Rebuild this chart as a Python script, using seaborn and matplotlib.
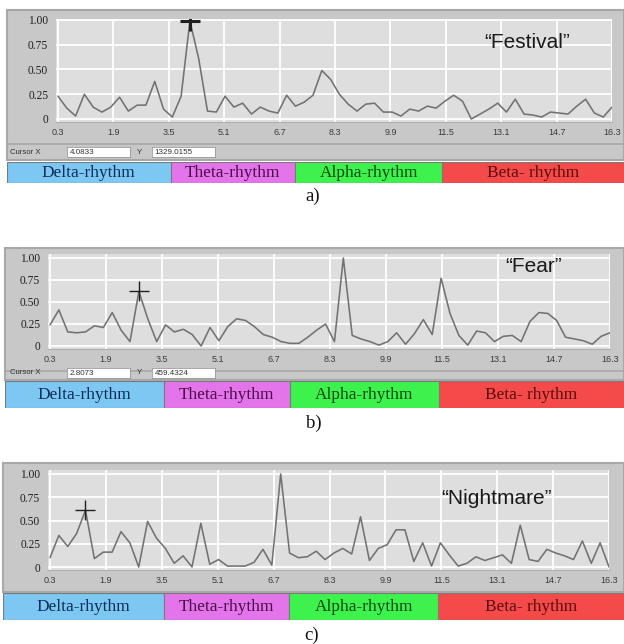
import numpy as np
import matplotlib
matplotlib.use("Agg")
import matplotlib.pyplot as plt
import seaborn as sns

# normalised spectra (64 bins, 0.3 .. 16.3 Hz)
festival = [0.23, 0.11, 0.03, 0.25, 0.12, 0.07, 0.12, 0.22, 0.08, 0.14,
            0.14, 0.38, 0.10, 0.02, 0.23, 0.99, 0.61, 0.08, 0.07, 0.23,
            0.12, 0.16, 0.05, 0.12, 0.08, 0.06, 0.24, 0.13, 0.17, 0.24,
            0.49, 0.40, 0.25, 0.15, 0.08, 0.15, 0.16, 0.07, 0.07, 0.03,
            0.10, 0.08, 0.13, 0.11, 0.18, 0.24, 0.18, 0.00, 0.05, 0.10,
            0.16, 0.07, 0.20, 0.05, 0.04, 0.02, 0.07, 0.06, 0.05, 0.13,
            0.20, 0.06, 0.02, 0.12]
fear = [0.24, 0.41, 0.16, 0.15, 0.16, 0.23, 0.21, 0.38, 0.18, 0.05,
        0.62, 0.31, 0.05, 0.24, 0.16, 0.19, 0.13, 0.00, 0.21, 0.06,
        0.22, 0.31, 0.29, 0.22, 0.13, 0.10, 0.05, 0.03, 0.03, 0.10,
        0.18, 0.25, 0.05, 1.00, 0.12, 0.08, 0.05, 0.01, 0.05, 0.15,
        0.02, 0.14, 0.30, 0.13, 0.77, 0.37, 0.12, 0.01, 0.17, 0.15,
        0.05, 0.11, 0.12, 0.05, 0.28, 0.38, 0.37, 0.29, 0.10, 0.08,
        0.06, 0.02, 0.11, 0.15]
nightmare = [0.10, 0.34, 0.22, 0.36, 0.61, 0.09, 0.16, 0.16, 0.38, 0.26,
             0.00, 0.49, 0.31, 0.20, 0.04, 0.12, 0.00, 0.47, 0.03, 0.08,
             0.01, 0.01, 0.01, 0.05, 0.19, 0.02, 1.00, 0.15, 0.10, 0.11,
             0.17, 0.08, 0.15, 0.20, 0.14, 0.54, 0.07, 0.20, 0.24, 0.40,
             0.40, 0.06, 0.26, 0.01, 0.26, 0.13, 0.01, 0.04, 0.11, 0.07,
             0.10, 0.13, 0.04, 0.45, 0.08, 0.06, 0.19, 0.15, 0.12, 0.08,
             0.28, 0.04, 0.26, 0.00]

f_min, f_max = 0.3, 16.3
x_ticks = [0.3, 1.9, 3.5, 5.1, 6.7, 8.3, 9.9, 11.5, 13.1, 14.7, 16.3]
y_ticks = [0, 0.25, 0.5, 0.75, 1.0]
y_tick_labels = ["0", "0.25", "0.50", "0.75", "1.00"]

titles = ["\u201cFestival\u201d", "\u201cFear\u201d", "\u201cNightmare\u201d"]
cursor_idx = [15, 10, 4]
cursor_vals = [("4.0833", "1329.0155"), ("2.8073", "459.4324"), None]
panel_labels = ["a)", "b)", "c)"]

band_names = ["Delta-rhythm", "Theta-rhythm", "Alpha-rhythm", "Beta- rhythm"]
band_edges = [3.55, 7.15, 11.4]
band_colors = ["#7cc8f2", "#e474ea", "#3ef24e", "#f44a4a"]
band_text = ["#0c2c58", "#4a0c4a", "#0c460c", "#5a0c0c"]

W, H = 624, 644
sns.set_style("white")
SERIF = ["Liberation Serif", "DejaVu Serif"]
SANS = ["Liberation Sans", "DejaVu Sans"]


def rect(x0, y0, x1, y1):
    return [x0 / W, 1 - y1 / H, (x1 - x0) / W, (y1 - y0) / H]


fig = plt.figure(figsize=(W / 100, H / 100), dpi=100)
fig.patch.set_facecolor("white")

# pixel geometry of each screenshot: frame, plot box (0..1 rows), band strip, title, label
layout = [
    dict(frame=(7, 10, 624, 160), plot=(58, 612, 20, 119), band=(7, 162, 624, 183),
         title=(527, 42), label=313, label_y=196, cursor_y=(147, 157), mew=2.2, yhi=1.01),
    dict(frame=(5, 248, 624, 380), plot=(50, 610, 258, 346), band=(5, 381, 624, 408),
         title=(534, 267), label=314, label_y=423, cursor_y=(368, 378), mew=1.0, yhi=1.04),
    dict(frame=(3, 463, 624, 592), plot=(50, 609, 474, 567), band=(3, 593, 624, 620),
         title=(497, 498), label=312, label_y=635, cursor_y=None, mew=1.0, yhi=1.04),
]
series = [festival, fear, nightmare]

for i, lay in enumerate(layout):
    vals = series[i]
    freq = np.linspace(f_min, f_max, len(vals))
    fx0, fy0, fx1, fy1 = lay["frame"]
    px0, px1, y1px, y0px = lay["plot"]
    unit = y0px - y1px
    ylo, yhi = -0.03, lay["yhi"]
    ptop = y1px - (yhi - 1) * unit
    pbot = y0px - ylo * unit

    # grey window frame
    fa = fig.add_axes(rect(fx0, fy0, fx1, fy1))
    fa.set_facecolor("#c8c8c8")
    fa.set_xticks([])
    fa.set_yticks([])
    for s in fa.spines.values():
        s.set_color("#a8a8a8")
        s.set_linewidth(1.5)
    # darker line under the plot frame
    fa.axhline((fy1 - (pbot + 22)) / (fy1 - fy0), color="#a8a8a8", lw=1.2)

    ax = fig.add_axes(rect(px0 - 2, ptop, px1, pbot))
    ax.set_facecolor("#dedede")
    sns.lineplot(x=freq, y=vals, ax=ax, color="#727272", lw=1.15)
    k = cursor_idx[i]
    ax.plot(freq[k], vals[k], marker="+", ms=14, mew=lay["mew"], color="#202020",
            clip_on=True)
    ax.set_xlim(f_min - 2 / ((px1 - px0) / (f_max - f_min)), f_max)
    ax.set_ylim(ylo, yhi)
    ax.set_xticks(x_ticks)
    ax.set_xticklabels([str(t) for t in x_ticks], family=SANS, fontsize=6.5, color="#3c3c3c")
    ax.set_yticks(y_ticks)
    ax.set_yticklabels(y_tick_labels, family=SERIF, fontsize=8.3, color="#202020")
    ax.grid(True, color="white", lw=1.3)
    ax.tick_params(axis="both", length=2.5, width=0.8, color="#555555", pad=2)
    ax.tick_params(axis="y", pad=3)
    for s in ax.spines.values():
        s.set_visible(False)
    ax.spines["bottom"].set_visible(True)
    ax.spines["bottom"].set_color("#b0b0b0")

    ax.text(lay["title"][0] / W, 1 - lay["title"][1] / H, titles[i], transform=fig.transFigure,
            ha="center", va="center", family=SANS, fontsize=15, color="#1a1a1a")

    # cursor read-out row
    if cursor_vals[i] is not None:
        cy0, cy1 = lay["cursor_y"]
        cx, cyv = cursor_vals[i]
        fig.text(10 / W, 1 - (cy0 + cy1) / 2 / H, "Cursor X", family=SANS, fontsize=5.6,
                 color="#303030", va="center")
        fig.text(137 / W, 1 - (cy0 + cy1) / 2 / H, "Y", family=SANS, fontsize=5.8,
                 color="#303030", va="center")
        for bx0, bx1, txt in [(67, 130, cx), (152, 215, cyv)]:
            ba = fig.add_axes(rect(bx0, cy0, bx1, cy1))
            ba.set_facecolor("white")
            ba.set_xticks([])
            ba.set_yticks([])
            for s in ba.spines.values():
                s.set_color("#9a9a9a")
                s.set_linewidth(0.6)
            ba.text(0.04, 0.5, txt, transform=ba.transAxes, va="center", family=SANS,
                    fontsize=5.8, color="#303030")

    # rhythm band strip
    bx0, by0, bx1, by1 = lay["band"]
    pph = (px1 - px0) / (f_max - f_min)
    f_left = f_min - (px0 - bx0) / pph
    f_right = f_min + (bx1 - px0) / pph
    lefts = [f_left] + band_edges
    rights = band_edges + [f_right]
    bax = fig.add_axes(rect(bx0, by0, bx1, by1))
    bax.barh([0] * 4, [r - l for l, r in zip(lefts, rights)], left=lefts, height=1,
             color=band_colors, edgecolor="#7a7a7a", lw=0.8)
    bax.set_xlim(f_left, f_right)
    bax.set_ylim(-0.5, 0.5)
    bax.axis("off")
    for l, r, name, tc in zip(lefts, rights, band_names, band_text):
        bax.text((l + r) / 2, -0.02, name, ha="center", va="center", family=SERIF,
                 fontsize=12.4, color=tc)

    fig.text(lay["label"] / W, 1 - lay["label_y"] / H, panel_labels[i], ha="center",
             va="center", family=SERIF, fontsize=13.5, color="#111111")

plt.savefig("out.png", dpi=100)
